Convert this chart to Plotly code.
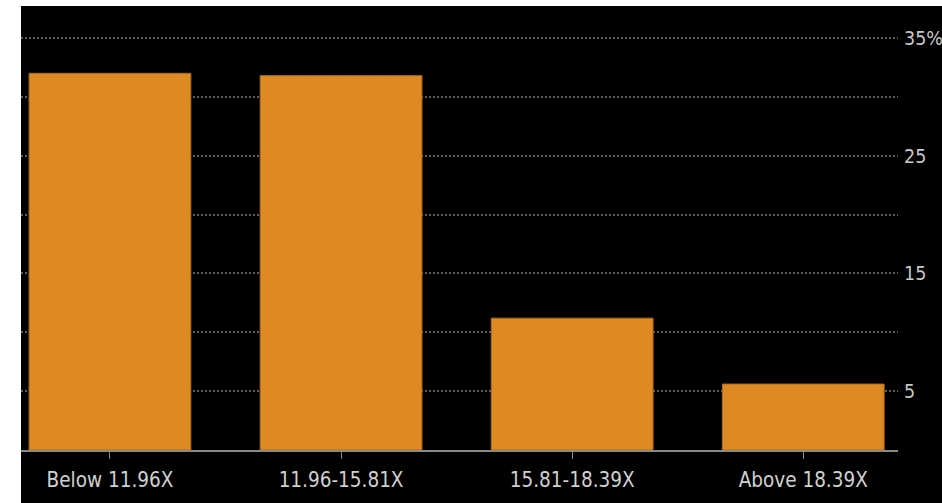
import plotly.graph_objects as go

categories = ["Below 11.96X", "11.96-15.81X", "15.81-18.39X", "Above 18.39X"]
values = [32.0, 31.8, 11.2, 5.6]
y_tickvals = [5, 15, 25, 35]
y_ticktext = ["5", "15", "25", "35%"]

FONT = "DejaVu Sans Condensed, Liberation Sans Narrow, sans-serif"

fig = go.Figure(
    go.Bar(
        x=categories,
        y=values,
        marker=dict(color="#DD8A25", line=dict(color="#B06C1C", width=1)),
        hoverinfo="skip",
    )
)

fig.update_layout(
    width=942,
    height=503,
    margin=dict(l=21, r=44, t=6, b=53, autoexpand=False),
    paper_bgcolor="#000000",
    plot_bgcolor="#000000",
    bargap=0.30,
    showlegend=False,
    font=dict(family=FONT, color="#cfcfcf"),
    shapes=[
        dict(type="rect", xref="paper", yref="paper", x0=-0.03, x1=0, y0=-0.2, y1=1.05,
             fillcolor="#ffffff", line=dict(width=0), layer="above"),
        dict(type="rect", xref="paper", yref="paper", x0=-0.03, x1=1.06, y0=1, y1=1.05,
             fillcolor="#ffffff", line=dict(width=0), layer="above"),
    ],
)

fig.update_xaxes(
    range=[-0.385, 3.41],
    automargin=False,
    showgrid=False,
    showline=True,
    linecolor="#8a8a8a",
    linewidth=2,
    ticks="outside",
    ticklen=7,
    tickcolor="#8a8a8a",
    tickwidth=1,
    tickfont=dict(size=20.5, family=FONT, color="#d0d0d0"),
    ticklabelstandoff=3,
    zeroline=False,
)

fig.update_yaxes(
    side="right",
    automargin=False,
    range=[0, 37.72],
    tickvals=y_tickvals,
    ticktext=y_ticktext,
    tickfont=dict(size=19.5, family=FONT, color="#c8c8c8"),
    showgrid=True,
    gridcolor="#5e5e5e",
    gridwidth=2,
    griddash="2px,2px",
    minor=dict(dtick=5, tick0=0, showgrid=True, gridcolor="#5e5e5e", gridwidth=2, griddash="2px,2px"),
    ticks="",
    ticklabelstandoff=5,
    zeroline=False,
    showline=False,
)

fig.write_html("out.html")
